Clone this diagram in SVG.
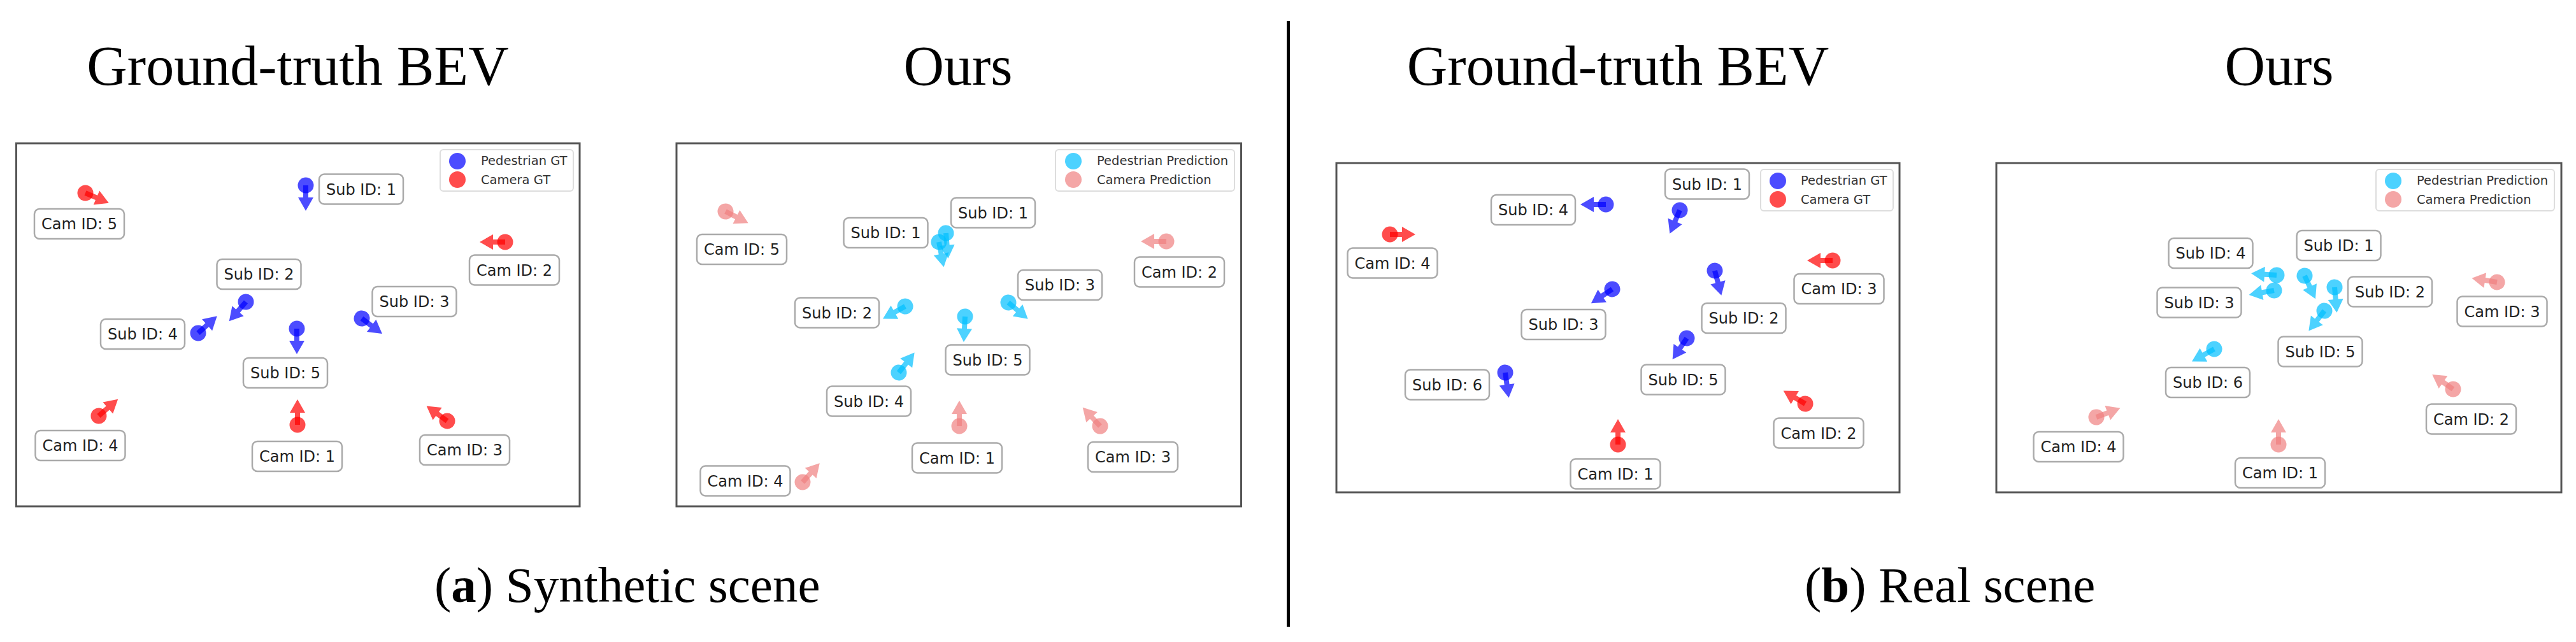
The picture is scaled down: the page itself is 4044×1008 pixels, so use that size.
<svg xmlns="http://www.w3.org/2000/svg" xmlns:xlink="http://www.w3.org/1999/xlink" width="4044" height="1008" viewBox="0 0 4044 1008">
<style>
.bg{fill:#fff}
.panel{fill:#fff;stroke:#555;stroke-width:3}
.title{font-family:"Liberation Serif",serif;font-size:88px;fill:#000;text-anchor:middle}
.cap{font-family:"Liberation Serif",serif;font-size:79px;fill:#000}
.lbl rect{fill:#fff;stroke:#aaa;stroke-width:2.5}
.lbl text{font-family:"DejaVu Sans",sans-serif;font-size:24px;fill:#222;text-anchor:middle}
.leg rect{fill:#fff;fill-opacity:0.8;stroke:#ddd;stroke-width:2}
.leg text{font-family:"DejaVu Sans",sans-serif;font-size:19.5px;fill:#333}
.pg{fill:#0000ff;fill-opacity:0.7}
.cg{fill:#ff0000;fill-opacity:0.7}
.pp{fill:#00bfff;fill-opacity:0.7}
.cp{fill:#f08080;fill-opacity:0.7}
.div{stroke:#000;stroke-width:5}
</style>
<defs>
<g id="pin"><circle r="12.5"/><polygon points="0,-4 19,-4 19,-12 40,0 19,12 19,4 0,4"/></g>
</defs>
<rect class="bg" x="0" y="0" width="4044" height="1008"/>

<!-- titles & captions -->
<text class="title" x="467.5" y="133">Ground-truth BEV</text>
<text class="title" x="1504" y="133">Ours</text>
<text class="title" x="2540" y="133">Ground-truth BEV</text>
<text class="title" x="3578" y="133">Ours</text>
<text class="cap" x="682" y="945">(<tspan font-weight="bold">a</tspan>) Synthetic scene</text>
<text class="cap" x="2833" y="945">(<tspan font-weight="bold">b</tspan>) Real scene</text>
<line class="div" x1="2022.5" y1="33" x2="2022.5" y2="984"/>

<!-- panel (a) GT -->
<g id="panel-a-gt">
<rect class="panel" x="25.5" y="225" width="884.5" height="570"/>
<g class="leg" id="a-gt-legend"><rect x="691" y="235" width="209" height="65" rx="5"/>
<circle class="pg" cx="718" cy="253" r="13"/><circle class="cg" cx="718" cy="282" r="13"/>
<text x="755" y="259">Pedestrian GT</text><text x="755" y="289">Camera GT</text></g>
<g id="a-gt-sub1"><use href="#pin" class="pg" transform="translate(480,291) rotate(90)"/><g class="lbl"><rect x="501" y="273.5" width="132" height="47" rx="8"/><text x="567" y="305.5">Sub ID: 1</text></g></g>
<g id="a-gt-cam5"><use href="#pin" class="cg" transform="translate(134,303) rotate(23)"/><g class="lbl"><rect x="54" y="328" width="141" height="47" rx="8"/><text x="124.5" y="360">Cam ID: 5</text></g></g>
<g id="a-gt-cam2"><use href="#pin" class="cg" transform="translate(793,380) rotate(180)"/><g class="lbl"><rect x="737" y="400.5" width="141" height="47" rx="8"/><text x="807.5" y="432.5">Cam ID: 2</text></g></g>
<g id="a-gt-sub2"><use href="#pin" class="pg" transform="translate(386,474) rotate(131)"/><g class="lbl"><rect x="340.5" y="407" width="132" height="47" rx="8"/><text x="406.5" y="439">Sub ID: 2</text></g></g>
<g id="a-gt-sub3"><use href="#pin" class="pg" transform="translate(568,500) rotate(37)"/><g class="lbl"><rect x="584.5" y="450" width="132" height="47" rx="8"/><text x="650.5" y="482">Sub ID: 3</text></g></g>
<g id="a-gt-sub4"><use href="#pin" class="pg" transform="translate(311,523) rotate(-42)"/><g class="lbl"><rect x="158" y="501" width="132" height="47" rx="8"/><text x="224" y="533">Sub ID: 4</text></g></g>
<g id="a-gt-sub5"><use href="#pin" class="pg" transform="translate(466,516) rotate(90)"/><g class="lbl"><rect x="382" y="562" width="132" height="47" rx="8"/><text x="448" y="594">Sub ID: 5</text></g></g>
<g id="a-gt-cam4"><use href="#pin" class="cg" transform="translate(155,653) rotate(-41)"/><g class="lbl"><rect x="55.5" y="676" width="141" height="47" rx="8"/><text x="126" y="708">Cam ID: 4</text></g></g>
<g id="a-gt-cam1"><use href="#pin" class="cg" transform="translate(467,667) rotate(-90)"/><g class="lbl"><rect x="396" y="693" width="141" height="47" rx="8"/><text x="466.5" y="725">Cam ID: 1</text></g></g>
<g id="a-gt-cam3"><use href="#pin" class="cg" transform="translate(702,661) rotate(-144)"/><g class="lbl"><rect x="659" y="683" width="141" height="47" rx="8"/><text x="729.5" y="715">Cam ID: 3</text></g></g>
</g>

<!-- panel (a) Ours -->
<g id="panel-a-ours">
<rect class="panel" x="1062" y="225" width="886.5" height="570"/>
<g class="leg" id="a-ours-legend"><rect x="1657" y="235" width="281" height="65" rx="5"/>
<circle class="pp" cx="1685" cy="253" r="13"/><circle class="cp" cx="1685" cy="282" r="13"/>
<text x="1722" y="259">Pedestrian Prediction</text><text x="1722" y="289">Camera Prediction</text></g>
<g id="a-ours-sub1"><use href="#pin" class="pp" transform="translate(1485,366) rotate(85)"/><use href="#pin" class="pp" transform="translate(1474,380) rotate(79)"/>
<g class="lbl"><rect x="1493" y="310.5" width="132" height="47" rx="8"/><text x="1559" y="342.5">Sub ID: 1</text></g>
<g class="lbl"><rect x="1324.5" y="342" width="132" height="47" rx="8"/><text x="1390.5" y="374">Sub ID: 1</text></g></g>
<g id="a-ours-cam5"><use href="#pin" class="cp" transform="translate(1139,332) rotate(27)"/><g class="lbl"><rect x="1094" y="368" width="141" height="47" rx="8"/><text x="1164.5" y="400">Cam ID: 5</text></g></g>
<g id="a-ours-cam2"><use href="#pin" class="cp" transform="translate(1831,379) rotate(180)"/><g class="lbl"><rect x="1781" y="403.5" width="141" height="47" rx="8"/><text x="1851.5" y="435.5">Cam ID: 2</text></g></g>
<g id="a-ours-sub3"><use href="#pin" class="pp" transform="translate(1583,475) rotate(40)"/><g class="lbl"><rect x="1598" y="424" width="132" height="47" rx="8"/><text x="1664" y="456">Sub ID: 3</text></g></g>
<g id="a-ours-sub2"><use href="#pin" class="pp" transform="translate(1421,481) rotate(151)"/><g class="lbl"><rect x="1248" y="467.5" width="132" height="47" rx="8"/><text x="1314" y="499.5">Sub ID: 2</text></g></g>
<g id="a-ours-sub5"><use href="#pin" class="pp" transform="translate(1515,497) rotate(93)"/><g class="lbl"><rect x="1484.5" y="541.5" width="132" height="47" rx="8"/><text x="1550.5" y="573.5">Sub ID: 5</text></g></g>
<g id="a-ours-sub4"><use href="#pin" class="pp" transform="translate(1411,585) rotate(-52)"/><g class="lbl"><rect x="1298" y="606.5" width="132" height="47" rx="8"/><text x="1364" y="638.5">Sub ID: 4</text></g></g>
<g id="a-ours-cam1"><use href="#pin" class="cp" transform="translate(1506,669) rotate(-90)"/><g class="lbl"><rect x="1432" y="695.5" width="141" height="47" rx="8"/><text x="1502.5" y="727.5">Cam ID: 1</text></g></g>
<g id="a-ours-cam3"><use href="#pin" class="cp" transform="translate(1727,669) rotate(-133)"/><g class="lbl"><rect x="1708" y="694" width="141" height="47" rx="8"/><text x="1778.5" y="726">Cam ID: 3</text></g></g>
<g id="a-ours-cam4"><use href="#pin" class="cp" transform="translate(1260,757) rotate(-48)"/><g class="lbl"><rect x="1099.5" y="731.5" width="141" height="47" rx="8"/><text x="1170" y="763.5">Cam ID: 4</text></g></g>
</g>

<!-- panel (b) GT -->
<g id="panel-b-gt">
<rect class="panel" x="2098" y="256" width="884" height="517"/>
<g class="leg" id="b-gt-legend"><rect x="2764" y="266" width="208" height="65" rx="5"/>
<circle class="pg" cx="2791" cy="284" r="13"/><circle class="cg" cx="2791" cy="313" r="13"/>
<text x="2827" y="290">Pedestrian GT</text><text x="2827" y="320">Camera GT</text></g>
<g id="b-gt-sub1"><use href="#pin" class="pg" transform="translate(2637,330) rotate(113)"/><g class="lbl"><rect x="2614" y="265.5" width="132" height="47" rx="8"/><text x="2680" y="297.5">Sub ID: 1</text></g></g>
<g id="b-gt-sub4"><use href="#pin" class="pg" transform="translate(2521,321) rotate(180)"/><g class="lbl"><rect x="2341" y="306" width="132" height="47" rx="8"/><text x="2407" y="338">Sub ID: 4</text></g></g>
<g id="b-gt-cam4"><use href="#pin" class="cg" transform="translate(2182,368) rotate(0)"/><g class="lbl"><rect x="2115.5" y="389.5" width="141" height="47" rx="8"/><text x="2186" y="421.5">Cam ID: 4</text></g></g>
<g id="b-gt-cam3"><use href="#pin" class="cg" transform="translate(2877,409) rotate(180)"/><g class="lbl"><rect x="2816.5" y="430" width="141" height="47" rx="8"/><text x="2887" y="462">Cam ID: 3</text></g></g>
<g id="b-gt-sub3"><use href="#pin" class="pg" transform="translate(2531,454) rotate(146)"/><g class="lbl"><rect x="2388.5" y="486" width="132" height="47" rx="8"/><text x="2454.5" y="518">Sub ID: 3</text></g></g>
<g id="b-gt-sub2"><use href="#pin" class="pg" transform="translate(2692,425) rotate(75)"/><g class="lbl"><rect x="2671.5" y="476" width="132" height="47" rx="8"/><text x="2737.5" y="508">Sub ID: 2</text></g></g>
<g id="b-gt-sub5"><use href="#pin" class="pg" transform="translate(2648,531) rotate(124)"/><g class="lbl"><rect x="2576.5" y="572.5" width="132" height="47" rx="8"/><text x="2642.5" y="604.5">Sub ID: 5</text></g></g>
<g id="b-gt-sub6"><use href="#pin" class="pg" transform="translate(2363,585) rotate(82)"/><g class="lbl"><rect x="2206" y="580.5" width="132" height="47" rx="8"/><text x="2272" y="612.5">Sub ID: 6</text></g></g>
<g id="b-gt-cam2"><use href="#pin" class="cg" transform="translate(2834,634) rotate(-149)"/><g class="lbl"><rect x="2784.5" y="656.5" width="141" height="47" rx="8"/><text x="2855" y="688.5">Cam ID: 2</text></g></g>
<g id="b-gt-cam1"><use href="#pin" class="cg" transform="translate(2540,698) rotate(-90)"/><g class="lbl"><rect x="2465.5" y="720.5" width="141" height="47" rx="8"/><text x="2536" y="752.5">Cam ID: 1</text></g></g>
</g>

<!-- panel (b) Ours -->
<g id="panel-b-ours">
<rect class="panel" x="3134" y="256" width="887" height="517"/>
<g class="leg" id="b-ours-legend"><rect x="3730" y="266" width="280" height="65" rx="5"/>
<circle class="pp" cx="3757" cy="284" r="13"/><circle class="cp" cx="3757" cy="313" r="13"/>
<text x="3794" y="290">Pedestrian Prediction</text><text x="3794" y="320">Camera Prediction</text></g>
<g id="b-ours-sub1"><use href="#pin" class="pp" transform="translate(3618,433) rotate(65)"/><g class="lbl"><rect x="3605.5" y="362" width="132" height="47" rx="8"/><text x="3671.5" y="394">Sub ID: 1</text></g></g>
<g id="b-ours-sub4"><use href="#pin" class="pp" transform="translate(3574,432) rotate(-176)"/><g class="lbl"><rect x="3404.5" y="374" width="132" height="47" rx="8"/><text x="3470.5" y="406">Sub ID: 4</text></g></g>
<g id="b-ours-sub3"><use href="#pin" class="pp" transform="translate(3570,456) rotate(170)"/><g class="lbl"><rect x="3386.5" y="451.5" width="132" height="47" rx="8"/><text x="3452.5" y="483.5">Sub ID: 3</text></g></g>
<g id="b-ours-sub2"><use href="#pin" class="pp" transform="translate(3665,451) rotate(85)"/><g class="lbl"><rect x="3686" y="434.5" width="132" height="47" rx="8"/><text x="3752" y="466.5">Sub ID: 2</text></g></g>
<g id="b-ours-sub5"><use href="#pin" class="pp" transform="translate(3649,488) rotate(128)"/><g class="lbl"><rect x="3576.5" y="528.5" width="132" height="47" rx="8"/><text x="3642.5" y="560.5">Sub ID: 5</text></g></g>
<g id="b-ours-sub6"><use href="#pin" class="pp" transform="translate(3476,548) rotate(151)"/><g class="lbl"><rect x="3400" y="577" width="132" height="47" rx="8"/><text x="3466" y="609">Sub ID: 6</text></g></g>
<g id="b-ours-cam3"><use href="#pin" class="cp" transform="translate(3920,443) rotate(-171)"/><g class="lbl"><rect x="3857.5" y="465.5" width="141" height="47" rx="8"/><text x="3928" y="497.5">Cam ID: 3</text></g></g>
<g id="b-ours-cam2"><use href="#pin" class="cp" transform="translate(3851,611) rotate(-145)"/><g class="lbl"><rect x="3809" y="634.5" width="141" height="47" rx="8"/><text x="3879.5" y="666.5">Cam ID: 2</text></g></g>
<g id="b-ours-cam4"><use href="#pin" class="cp" transform="translate(3291,655) rotate(-21)"/><g class="lbl"><rect x="3192.5" y="678" width="141" height="47" rx="8"/><text x="3263" y="710">Cam ID: 4</text></g></g>
<g id="b-ours-cam1"><use href="#pin" class="cp" transform="translate(3577,698) rotate(-90)"/><g class="lbl"><rect x="3509" y="719" width="141" height="47" rx="8"/><text x="3579.5" y="751">Cam ID: 1</text></g></g>
</g>
</svg>
